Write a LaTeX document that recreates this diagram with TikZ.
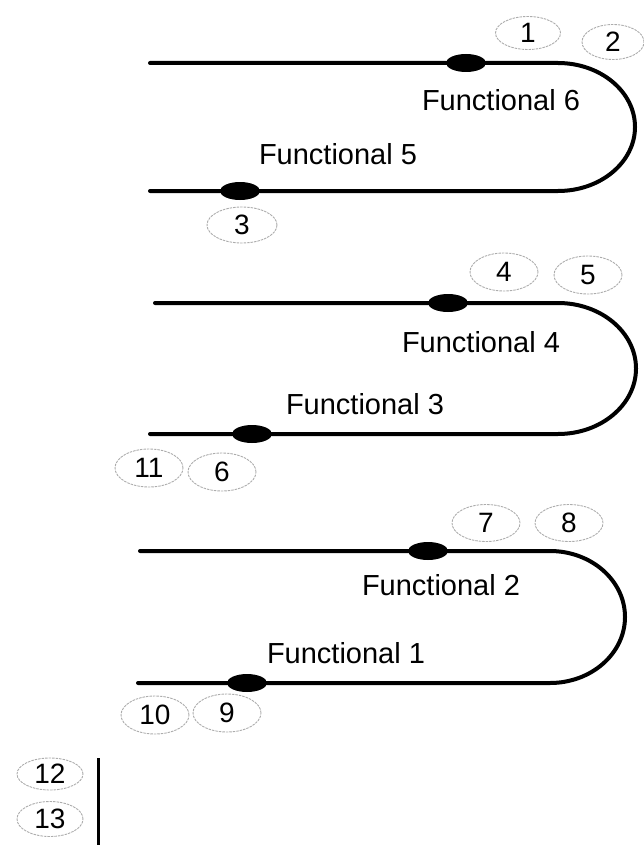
\documentclass[tikz,border=0pt]{standalone}
\usepackage{fontspec}
\setmainfont{Liberation Sans}
\usetikzlibrary{shapes.geometric}
\begin{document}
\begin{tikzpicture}[x=1pt,y=-1pt,
  wire/.style={line width=4pt, line cap=round},
  bead/.style={shape=ellipse, fill=black, inner sep=0pt, minimum width=40pt, minimum height=18pt},
  tag/.style={shape=ellipse, draw=gray!65, line width=0.9pt, dash pattern=on 2.5pt off 1pt, inner sep=0pt, minimum width=68pt, minimum height=38pt, font=\fontsize{28}{28}\selectfont},
  func/.style={inner sep=0pt, font=\fontsize{29}{29}\selectfont}]
\useasboundingbox (0,0) rectangle (644,845);
% loop 1
\coordinate (t1s) at (150,63); \coordinate (t1e) at (558,63);
\coordinate (b1s) at (150,191);
\draw[wire] (t1s) -- (t1e) arc[start angle=90, end angle=-90, x radius=77pt, y radius=64pt] -- (b1s);
% loop 2
\coordinate (t2s) at (155,303); \coordinate (t2e) at (558,303);
\coordinate (b2s) at (150,434);
\draw[wire] (t2s) -- (t2e) arc[start angle=90, end angle=-90, x radius=78pt, y radius=65.5pt] -- (b2s);
% loop 3
\coordinate (t3s) at (140,551); \coordinate (t3e) at (550,551);
\coordinate (b3s) at (138,683);
\draw[wire] (t3s) -- (t3e) arc[start angle=90, end angle=-90, x radius=75pt, y radius=66pt] -- (b3s);
% beads
\node[bead] (k6) at (466,63) {};
\node[bead] (k5) at (240,191) {};
\node[bead] (k4) at (448,303) {};
\node[bead] (k3) at (252,434) {};
\node[bead] (k2) at (428,551) {};
\node[bead] (k1) at (247,683) {};
% functional labels
\node[func] (f6) at (501,100) {Functional 6};
\node[func] (f5) at (338,154) {Functional 5};
\node[func] (f4) at (481,342) {Functional 4};
\node[func] (f3) at (365,404) {Functional 3};
\node[func] (f2) at (441,585) {Functional 2};
\node[func] (f1) at (346,653) {Functional 1};
% number tags
\node[tag, minimum width=65pt, minimum height=33pt] (n1) at (528,33) {1};
\node[tag, minimum width=62pt, minimum height=35pt] (n2) at (613,42) {2};
\node[tag, minimum width=70pt, minimum height=36pt] (n3) at (242,225) {3};
\node[tag] (n4) at (504,272) {4};
\node[tag] (n5) at (588,275) {5};
\node[tag] (n11) at (149,468) {11};
\node[tag] (n6) at (222,472) {6};
\node[tag, minimum height=37pt] (n7) at (486,523) {7};
\node[tag, minimum height=37pt] (n8) at (569,523) {8};
\node[tag] (n10) at (155,715) {10};
\node[tag] (n9) at (227,713) {9};
\node[tag, minimum width=66pt, minimum height=32pt] (n12) at (50,774) {12};
\node[tag, minimum width=66pt, minimum height=35pt] (n13) at (50,819) {13};
% vertical bar
\coordinate (vt) at (98,758); \coordinate (vb) at (98,845);
\draw[line width=3pt] (vt) -- (vb);
\end{tikzpicture}
\end{document}
